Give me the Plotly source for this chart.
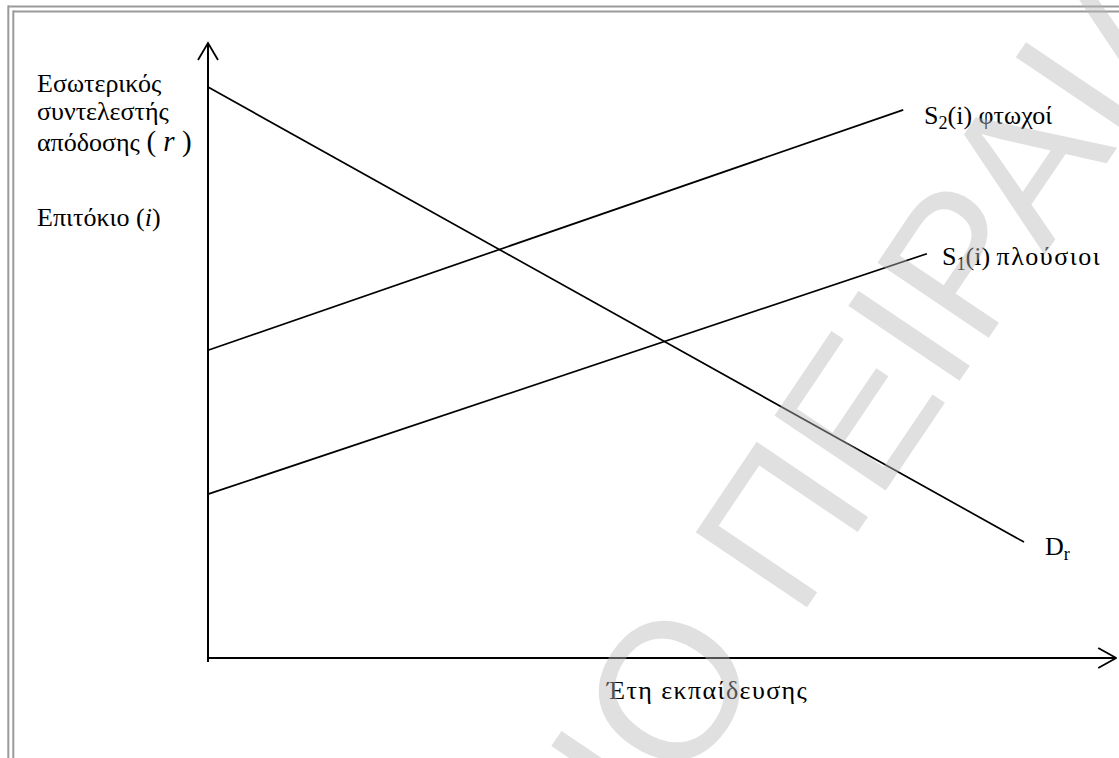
import plotly.graph_objects as go

# ---- data (schematic units: x = years of education, y = rate) ----
demand_x = [0, 10]
demand_y = [10, 2.03]
s2_x = [0, 8.52]          # poor
s2_y = [5.39, 9.60]
s1_x = [0, 8.81]          # rich
s1_y = [2.87, 7.08]
x_axis_end = 11.13
y_axis_end = 10.77

W, H = 1119, 758
x_range = [-2.549, 11.164]
y_range = [-1.751, 11.524]
pxx = W / (x_range[1] - x_range[0])   # px per x unit
pxy = H / (y_range[1] - y_range[0])   # px per y unit

fig = go.Figure()
line_style = dict(color="black", width=1.7)
axis_style = dict(color="black", width=2)

for xs, ys in [(demand_x, demand_y), (s2_x, s2_y), (s1_x, s1_y)]:
    fig.add_trace(go.Scatter(x=xs, y=ys, mode="lines", line=line_style, hoverinfo="skip"))

# axes with open arrowheads
fig.add_trace(go.Scatter(x=[0, x_axis_end], y=[0, 0], mode="lines", line=axis_style, hoverinfo="skip"))
fig.add_trace(go.Scatter(x=[0, 0], y=[-4 / pxy, y_axis_end], mode="lines", line=axis_style, hoverinfo="skip"))
back_x, side_x = 18 / pxx, 10 / pxy
fig.add_trace(go.Scatter(x=[x_axis_end - back_x, x_axis_end, x_axis_end - back_x],
                         y=[side_x, 0, -side_x], mode="lines",
                         line=dict(color="black", width=1.8), hoverinfo="skip"))
back_y, side_y = 17 / pxy, 10 / pxx
fig.add_trace(go.Scatter(x=[-side_y, 0, side_y],
                         y=[y_axis_end - back_y, y_axis_end, y_axis_end - back_y], mode="lines",
                         line=dict(color="black", width=1.8), hoverinfo="skip"))

serif = "Liberation Serif, Times New Roman, serif"
tfont = dict(family=serif, size=26, color="black")

ann = []
def add_label(text, x, y, xshift=0, yshift=0, xref="x", yref="y", font=tfont):
    ann.append(dict(text=text, x=x, y=y, xref=xref, yref=yref, xanchor="left", yanchor="middle",
                    showarrow=False, font=font, xshift=xshift, yshift=yshift))

add_label("S<sub>2</sub>(i) φτωχοί", s2_x[1], s2_y[1], 19, -7)
add_label("S<sub>1</sub>(i) <span style='letter-spacing:1.5px'>πλούσιοι</span>", s1_x[1], s1_y[1], 13, -4)
add_label("D<sub>r</sub>", demand_x[1], demand_y[1], 19, -6)
add_label("<span style='letter-spacing:1.4px'>Έτη εκπαίδευσης</span>", 0, 0, 604 - 208, -32)

for txt, ypx in [("Εσωτερικός", 83), ("συντελεστής", 112),
                 ("απόδοσης <span style='font-size:29px'>( <i>r</i> )</span>", 141),
                 ("Επιτόκιο (<i>i</i>)", 218)]:
    add_label(txt, 35 / W, 1 - ypx / H, xref="paper", yref="paper")

# watermark
ann.append(dict(text="ΠΑΝΕΠΙΣΤΗΜΙΟ ΠΕΙΡΑΙΑ", x=522 / W, y=1 - 908 / H, xref="paper", yref="paper",
                xanchor="center", yanchor="middle", showarrow=False, textangle=-56,
                font=dict(family="Liberation Sans, Arial, sans-serif", size=195,
                          color="rgba(185,185,185,0.44)")))

# double frame
gray = "#9a9a9a"
shapes = [
    dict(type="line", xref="paper", yref="paper", x0=8 / W, x1=1, y0=1 - 6.5 / H, y1=1 - 6.5 / H, line=dict(color=gray, width=2)),
    dict(type="line", xref="paper", yref="paper", x0=13 / W, x1=1, y0=1 - 11.5 / H, y1=1 - 11.5 / H, line=dict(color=gray, width=2)),
    dict(type="line", xref="paper", yref="paper", x0=8.3 / W, x1=8.3 / W, y0=0, y1=1 - 5.5 / H, line=dict(color=gray, width=2)),
    dict(type="line", xref="paper", yref="paper", x0=13.3 / W, x1=13.3 / W, y0=0, y1=1 - 10.5 / H, line=dict(color=gray, width=2)),
]

fig.update_layout(
    width=W, height=H, margin=dict(l=0, r=0, t=0, b=0),
    paper_bgcolor="white", plot_bgcolor="white", showlegend=False,
    xaxis=dict(range=x_range, visible=False, fixedrange=True),
    yaxis=dict(range=y_range, visible=False, fixedrange=True),
    annotations=ann, shapes=shapes,
)
fig.write_html("out.html", config={"displayModeBar": False},
               post_script="document.body.style.margin='0';document.body.style.overflow='hidden';")
